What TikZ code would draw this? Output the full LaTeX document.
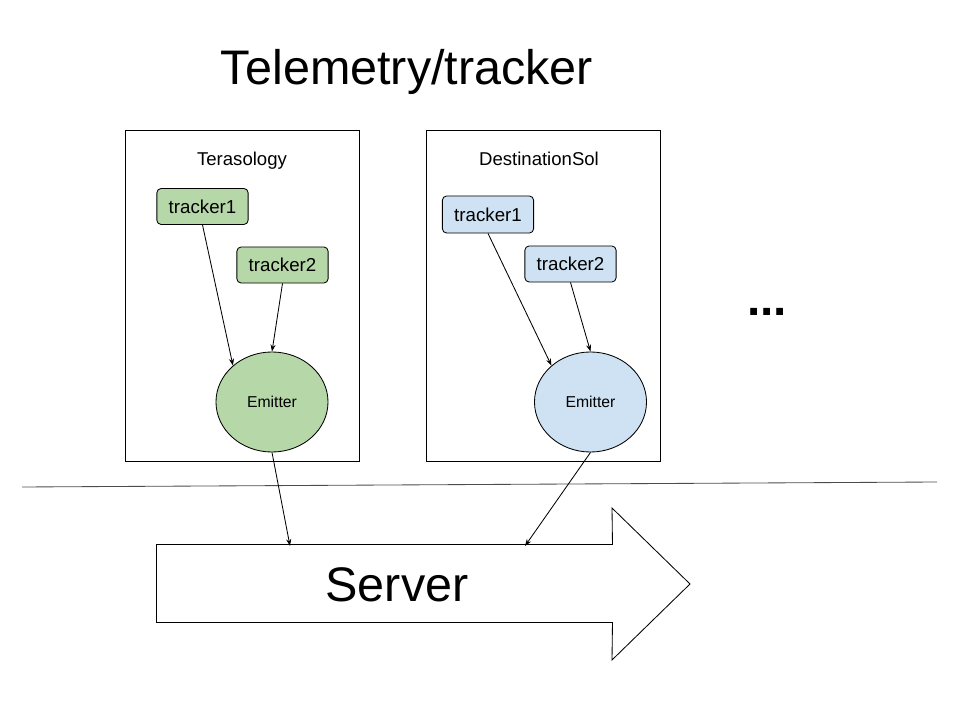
\documentclass[tikz,border=0pt]{standalone}
\usepackage{fontspec}
\setmainfont{Liberation Sans}
\usetikzlibrary{shapes.geometric, arrows.meta, positioning}
\definecolor{teragreen}{HTML}{B6D7A8}
\definecolor{solblue}{HTML}{CFE2F3}

\begin{document}
\begin{tikzpicture}[x=0.025cm, y=-0.025cm, line width=0.6pt,
        game/.style = {
            rectangle,
            draw,
            inner sep=0pt,
            minimum width=5.85cm,
            minimum height=8.275cm
        },
        game_label/.style = {
            inner sep=0pt,
            font=\fontsize{13.2}{16}\selectfont
        },
        tracker/.style = {
            rectangle,
            draw,
            rounded corners=3pt,
            inner sep=0pt,
            minimum width=2.28cm,
            minimum height=0.9cm,
            font=\fontsize{13.3}{16}\selectfont
        },
        emitter/.style = {
            ellipse,
            draw,
            inner sep=0pt,
            minimum width=2.8cm,
            minimum height=2.5cm,
            font=\fontsize{11.2}{14}\selectfont
        },
        link/.style = {-{Stealth[length=5pt, width=3.6pt]}},
        big/.style = {inner sep=0pt, font=\fontsize{34.5}{40}\selectfont}
        ]
        \useasboundingbox (0,0) rectangle (960,720);

        \node (title) [big] at (407,72) {Telemetry/tracker};

        % game boxes
        \node (tera) [game] at (242,295.5) {};
        \node (tera_label) [game_label, below=0.56cm of tera.north] {Terasology};
        \node (tera_t1) [tracker, fill=teragreen] at (202.5,206.5) {tracker1};
        \node (tera_t2) [tracker, fill=teragreen] at (282.5,265) {tracker2};
        \node (tera_em) [emitter, fill=teragreen] at (272,402) {Emitter};

        \node (sol) [game] at (543,295.5) {};
        \node (sol_label) [game_label, below=0.56cm of sol.north, xshift=-0.1cm] {DestinationSol};
        \node (sol_t1) [tracker, fill=solblue, minimum height=0.925cm] at (488,214.5) {tracker1};
        \node (sol_t2) [tracker, fill=solblue] at (570.5,264) {tracker2};
        \node (sol_em) [emitter, fill=solblue] at (590.5,402) {Emitter};

        \node (more) [inner sep=0pt, anchor=base, font=\fontsize{34}{40}\selectfont\bfseries] at (767,316) {...};

        % divider
        \coordinate (divider_l) at (22,487);
        \coordinate (divider_r) at (937,482);
        \draw[black!70] (divider_l) -- (divider_r);

        % server arrow
        \node (server) [inner sep=0pt, minimum width=11.375cm, minimum height=1.925cm] at (384.5,583.5) {};
        \draw (server.north west) -- (server.north east) -- (612,508) -- (690,584)
            -- (612,660) -- (server.south east) -- (server.south west) -- cycle;
        \node (server_text) [big] at (397,585) {Server};
        \coordinate (tera_in) at (290,546);
        \coordinate (sol_in) at (525,546);

        \draw[link] (tera_t1.south) -- (tera_em.137);
        \draw[link] (tera_t2.south) -- (tera_em.north);
        \draw[link] (tera_em.south) -- (tera_in);
        \draw[link] (sol_t1.south) -- (sol_em.137);
        \draw[link] (sol_t2.south) -- (sol_em.north);
        \draw[link] (sol_em.south) -- (sol_in);

    \end{tikzpicture}
\end{document}
